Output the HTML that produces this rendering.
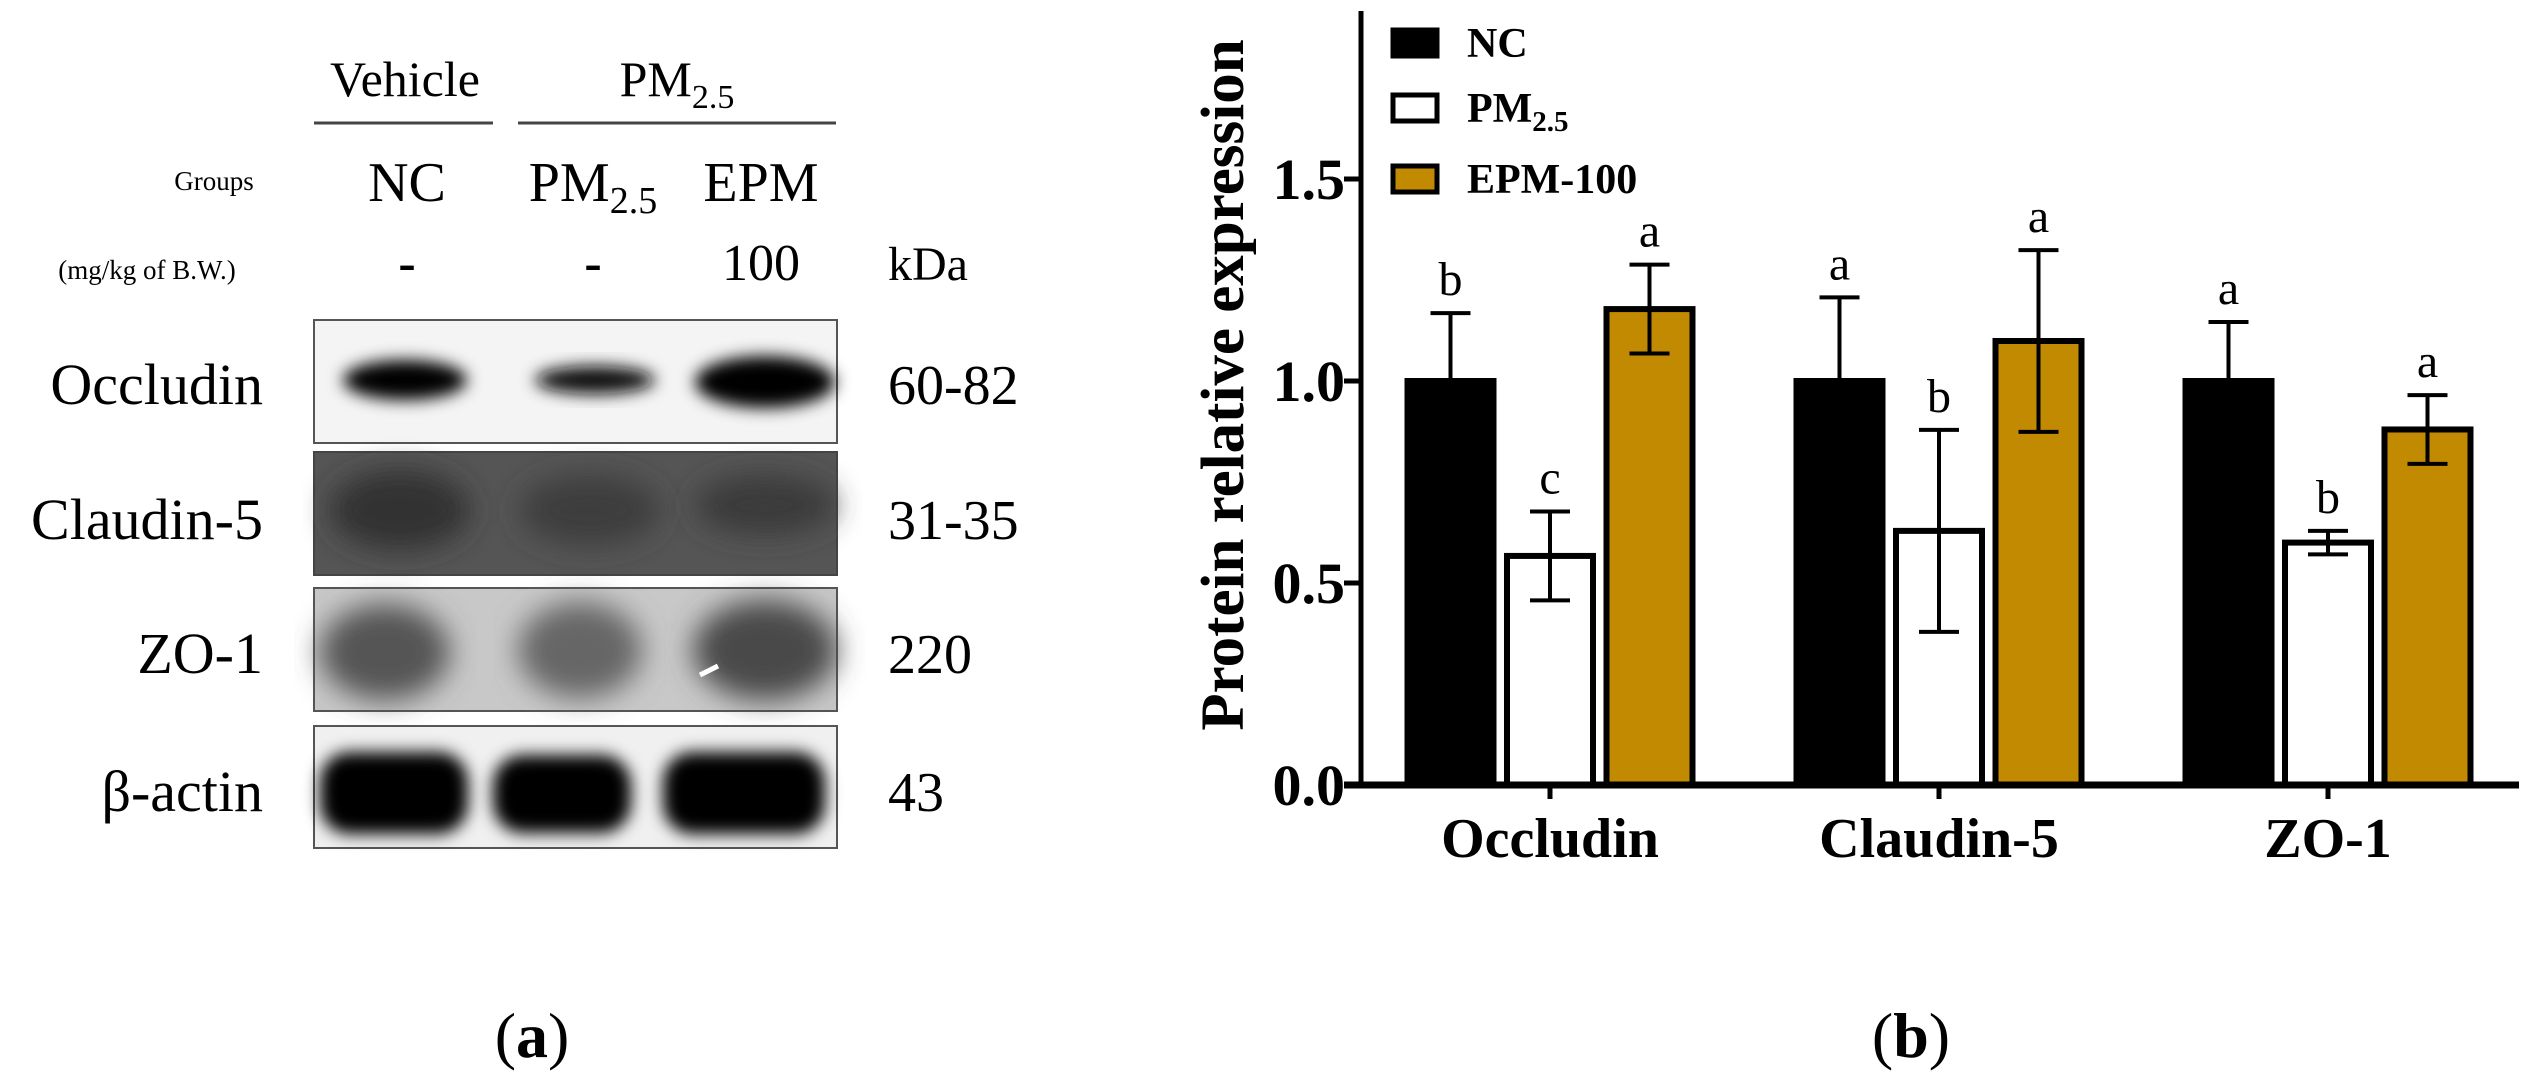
<!DOCTYPE html>
<html><head><meta charset="utf-8"><style>
html,body{margin:0;padding:0;background:#fff;}
svg{display:block;}
text,tspan{font-family:"Liberation Serif","DejaVu Serif",serif;}
</style></head><body>
<svg id="fig" width="2530" height="1089" viewBox="0 0 2530 1089" xmlns="http://www.w3.org/2000/svg">
<defs>
<filter id="b8" x="-20%" y="-50%" width="140%" height="200%"><feGaussianBlur stdDeviation="8"/></filter>
<filter id="b14" x="-20%" y="-50%" width="140%" height="200%"><feGaussianBlur stdDeviation="14"/></filter>
</defs>
<g fill="#000">
  <text x="405" y="96" font-size="50" text-anchor="middle">Vehicle</text>
  <line x1="314" y1="123" x2="493" y2="123" stroke="#444" stroke-width="3"/>
  <text x="677" y="96" font-size="50" text-anchor="middle">PM<tspan font-size="34" dy="12">2.5</tspan></text>
  <line x1="518" y1="123" x2="836" y2="123" stroke="#444" stroke-width="3"/>
  <text x="214" y="190" font-size="27" text-anchor="middle">Groups</text>
  <text x="407" y="201" font-size="56" text-anchor="middle">NC</text>
  <text x="593" y="201" font-size="56" text-anchor="middle">PM<tspan font-size="38" dy="12">2.5</tspan></text>
  <text x="761" y="201" font-size="56" text-anchor="middle">EPM</text>
  <text x="147" y="279" font-size="27" text-anchor="middle">(mg/kg of B.W.)</text>
  <text x="407" y="280" font-size="52" text-anchor="middle" font-weight="bold">-</text>
  <text x="593" y="280" font-size="52" text-anchor="middle" font-weight="bold">-</text>
  <text x="761" y="280" font-size="52" text-anchor="middle">100</text>
  <text x="888" y="280" font-size="48">kDa</text>

  <g>
    <rect x="314" y="320" width="523" height="123" fill="#f4f4f4" stroke="#555" stroke-width="2"/>
    <ellipse cx="405" cy="380" rx="62" ry="20" fill="#000" filter="url(#b8)"/>
    <ellipse cx="595" cy="380" rx="60" ry="14" fill="#111" filter="url(#b8)"/>
    <ellipse cx="765" cy="382" rx="70" ry="26" fill="#000" filter="url(#b8)"/>
  </g>
  <g>
    <rect x="314" y="452" width="523" height="123" fill="#555" stroke="#444" stroke-width="2"/>
    <ellipse cx="400" cy="510" rx="70" ry="40" fill="#333" filter="url(#b14)"/>
    <ellipse cx="590" cy="510" rx="70" ry="35" fill="#3c3c3c" filter="url(#b14)"/>
    <ellipse cx="765" cy="505" rx="70" ry="30" fill="#3a3a3a" filter="url(#b14)"/>
  </g>
  <g>
    <rect x="314" y="588" width="523" height="123" fill="#c8c8c8" stroke="#555" stroke-width="2"/>
    <ellipse cx="385" cy="652" rx="65" ry="48" fill="#555" filter="url(#b14)"/>
    <ellipse cx="580" cy="650" rx="62" ry="48" fill="#666" filter="url(#b14)"/>
    <ellipse cx="765" cy="650" rx="72" ry="50" fill="#4a4a4a" filter="url(#b14)"/>
    <line x1="700" y1="675" x2="718" y2="666" stroke="#fff" stroke-width="5"/>
  </g>
  <g>
    <rect x="314" y="726" width="523" height="122" fill="#f0f0f0" stroke="#555" stroke-width="2"/>
    <rect x="320" y="752" width="148" height="82" rx="30" fill="#000" filter="url(#b8)"/>
    <rect x="493" y="755" width="138" height="78" rx="30" fill="#000" filter="url(#b8)"/>
    <rect x="663" y="752" width="162" height="82" rx="30" fill="#000" filter="url(#b8)"/>
  </g>
  <text x="263" y="404" font-size="58" text-anchor="end">Occludin</text>
  <text x="263" y="539" font-size="58" text-anchor="end">Claudin-5</text>
  <text x="263" y="673" font-size="58" text-anchor="end">ZO-1</text>
  <text x="263" y="811" font-size="58" text-anchor="end">β-actin</text>
  <text x="888" y="404" font-size="56">60-82</text>
  <text x="888" y="539" font-size="56">31-35</text>
  <text x="888" y="673" font-size="56">220</text>
  <text x="888" y="811" font-size="56">43</text>
  <text x="532" y="1057" font-size="64" text-anchor="middle">(<tspan font-weight="bold">a</tspan>)</text>
</g>
<g id="chart"></g>
<text x="1911" y="1057" font-size="64" text-anchor="middle">(<tspan font-weight="bold">b</tspan>)</text>
</svg>
<script>
const categories = ["Occludin", "Claudin-5", "ZO-1"];
const seriesNames = ["NC", "PM2.5", "EPM-100"];
const ncValues = [1.0, 1.0, 1.0];
const ncErrors = [0.168, 0.207, 0.146];
const pmValues = [0.567, 0.629, 0.600];
const pmErrors = [0.11, 0.25, 0.029];
const epmValues = [1.178, 1.099, 0.880];
const epmErrors = [0.11, 0.225, 0.085];
const ncLetters = ["b", "a", "a"];
const pmLetters = ["c", "b", "b"];
const epmLetters = ["a", "a", "a"];
const yTicks = [0.0, 0.5, 1.0, 1.5];

const NS = "http://www.w3.org/2000/svg";
const g = document.getElementById("chart");
const X0 = 1361, X1 = 2519, Y0 = 785, PXU = 404;
const groupStart = 1550, groupStep = 389, barOff = 99.5, barW = 86;
function yS(v){ return Y0 - v * PXU; }
function xG(i){ return groupStart + i * groupStep; }
function mk(tag, attrs){ const e = document.createElementNS(NS, tag); for (const k in attrs) e.setAttribute(k, attrs[k]); g.appendChild(e); return e; }

const series = [
  {vals: ncValues, errs: ncErrors, letters: ncLetters, fill: "#000", off: -1, key: "nc"},
  {vals: pmValues, errs: pmErrors, letters: pmLetters, fill: "#fff", off: 0, key: "pm"},
  {vals: epmValues, errs: epmErrors, letters: epmLetters, fill: "#c28a00", off: 1, key: "epm"}
];
series.forEach(s => {
  categories.forEach((c, i) => {
    const cx = xG(i) + s.off * barOff;
    const top = yS(s.vals[i]);
    const bar = mk("rect", {x: cx - barW/2, y: top, width: barW, height: Y0 - top, fill: s.fill, stroke: "#000", "stroke-width": 6});
    
    
    const hi = yS(s.vals[i] + s.errs[i]), lo = yS(s.vals[i] - s.errs[i]);
    const eb = mk("path", {d: `M${cx},${lo}V${hi}M${cx-20},${hi}H${cx+20}M${cx-20},${lo}H${cx+20}`, stroke: "#000", "stroke-width": 4, fill: "none"});
    
    
    const t = mk("text", {x: cx, y: hi - 18, "font-size": 48, "text-anchor": "middle"});
    t.textContent = s.letters[i];
    
    
  });
});
const ya = mk("line", {x1: X0, y1: 11, x2: X0, y2: Y0 + 3, stroke: "#000", "stroke-width": 5});


const xa = mk("line", {x1: X0 - 17, y1: Y0, x2: X1, y2: Y0, stroke: "#000", "stroke-width": 7});


yTicks.forEach(v => {
  const tk = mk("line", {x1: X0 - 17, y1: yS(v), x2: X0, y2: yS(v), stroke: "#000", "stroke-width": 5});
  
  
  const lb = mk("text", {x: X0 - 16, y: yS(v) + 20, "font-size": 58, "font-weight": "bold", "text-anchor": "end"});
  lb.textContent = v.toFixed(1);
  
  
});
categories.forEach((c, i) => {
  const tk = mk("line", {x1: xG(i), y1: Y0, x2: xG(i), y2: Y0 + 14, stroke: "#000", "stroke-width": 5});
  
  
  const lb = mk("text", {x: xG(i), y: 857, "font-size": 56, "font-weight": "bold", "text-anchor": "middle"});
  lb.textContent = c;
  
  
});
const yt = mk("text", {x: 0, y: 0, "font-size": 61, "font-weight": "bold", "text-anchor": "middle", transform: "translate(1243,385) rotate(-90)"});
yt.textContent = "Protein relative expression";


const legY = [43, 108, 179];
series.forEach((s, k) => {
  const r = mk("rect", {x: 1393, y: legY[k] - 13, width: 44, height: 26, fill: s.fill, stroke: "#000", "stroke-width": 5});
  
  
  const t = mk("text", {x: 1467, y: legY[k] + 14, "font-size": 42, "font-weight": "bold"});
  if (k === 1) {
    t.textContent = "PM";
    const sub = document.createElementNS(NS, "tspan");
    sub.setAttribute("font-size", "29"); sub.setAttribute("dy", "9");
    sub.textContent = "2.5";
    t.appendChild(sub);
  } else t.textContent = seriesNames[k];
  
  
});
</script>
</body></html>
